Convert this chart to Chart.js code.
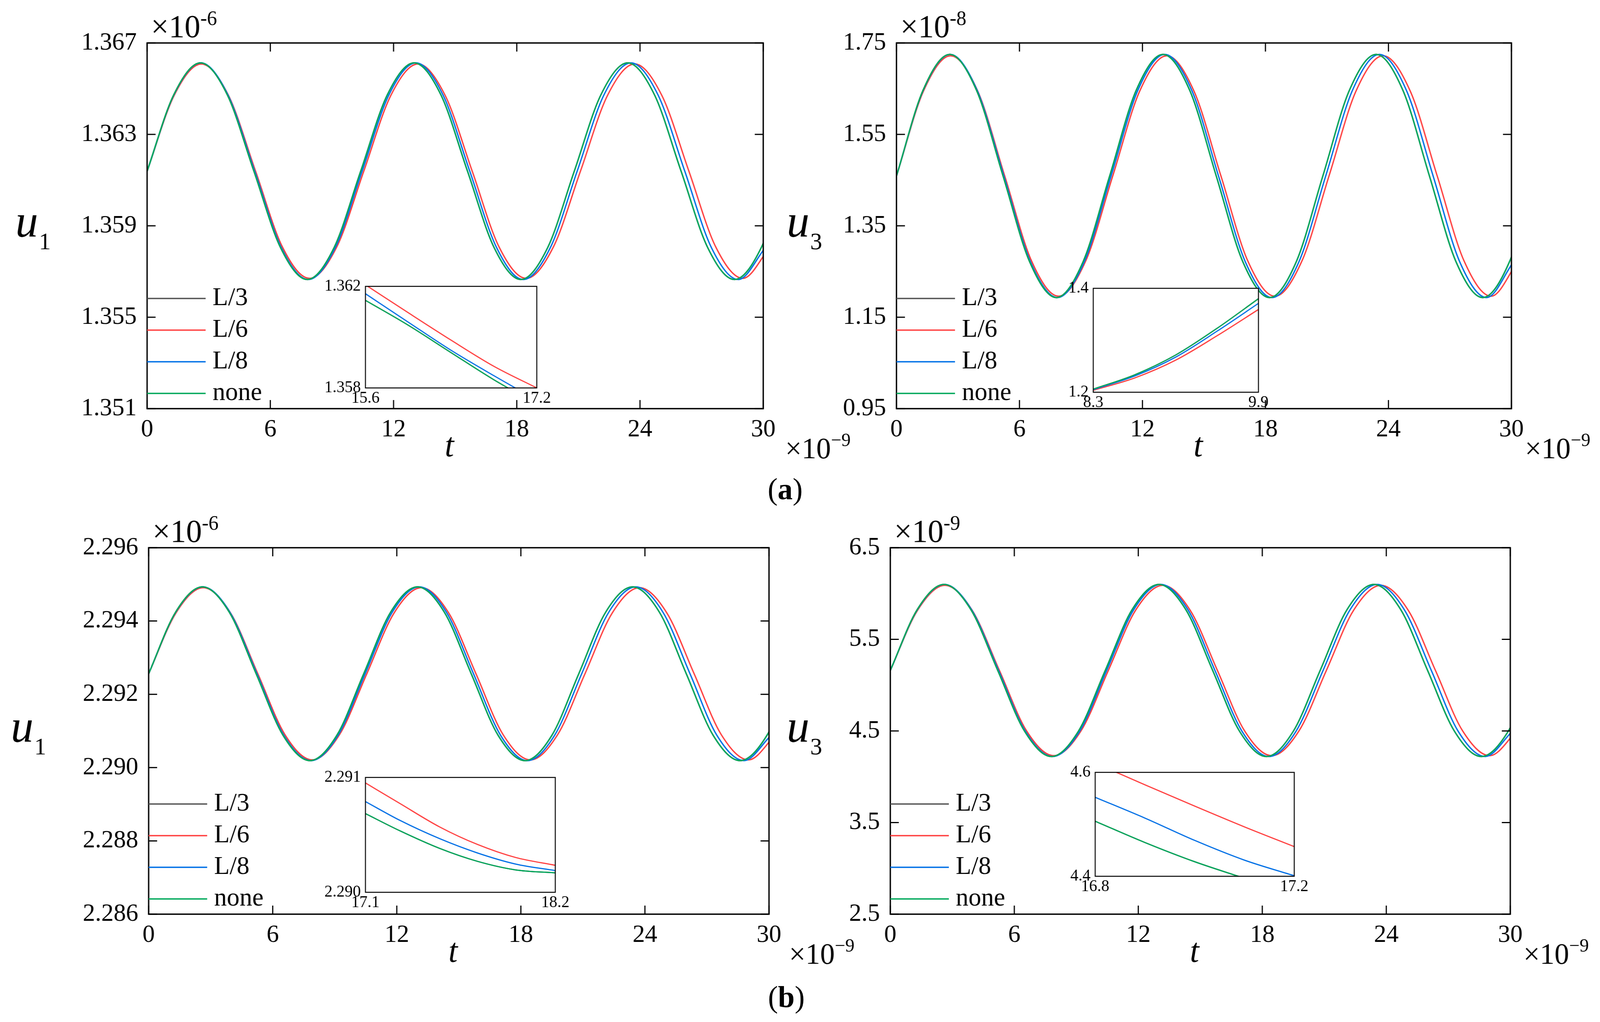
<!DOCTYPE html>
<html>
<head>
<meta charset="utf-8">
<script src="https://cdn.jsdelivr.net/npm/chart.js@4.4.1/dist/chart.umd.min.js"></script>
<style>
  html, body { margin: 0; padding: 0; background: #fff; overflow: hidden; }
  #page { position: absolute; left: 0; top: 0; width: 4155px; height: 2616px; transform-origin: 0 0; background: #fff; }
  canvas { position: absolute; }
  .cap { position: absolute; font-family: "Liberation Serif", "Times New Roman", serif; font-size: 78px; line-height: 78px; transform: translateX(-50%); color: #000; }
</style>
</head>
<body>
<div id="page">
<div class="cap" style="left:2039px; top:1213px">(<b>a</b>)</div>
<div class="cap" style="left:2042px; top:2513px">(<b>b</b>)</div>
</div>
<script>
// sample times (x 10^-9) picked along each curve: zero crossings, peaks, troughs and half-way points
const tNone = [0, 1.3, 2.6, 3.9, 5.2, 6.5, 7.8, 9.1, 10.4, 11.7, 13.0, 14.3, 15.6, 16.9, 18.2, 19.5, 20.8, 22.1, 23.4, 24.7, 26.0, 27.3, 28.6, 29.9, 31.2];
const tL8 = [0, 1.31, 2.62, 3.93, 5.24, 6.54, 7.85, 9.16, 10.47, 11.78, 13.09, 14.40, 15.71, 17.02, 18.32, 19.63, 20.94, 22.25, 23.56, 24.87, 26.18, 27.48, 28.79, 30.10];
const tL6 = [0, 1.32, 2.64, 3.96, 5.28, 6.59, 7.91, 9.23, 10.55, 11.87, 13.19, 14.51, 15.83, 17.14, 18.46, 19.78, 21.10, 22.42, 23.74, 25.06, 26.38, 27.69, 29.01, 30.33];

// (a) u1 (x 10^-6)
const u1aNone = [1.36139, 1.36474, 1.36613, 1.36474, 1.36139, 1.35804, 1.35665, 1.35804,
  1.36139, 1.36474, 1.36613, 1.36474, 1.36139, 1.35804, 1.35665, 1.35804,
  1.36139, 1.36474, 1.36613, 1.36474, 1.36139, 1.35804, 1.35665, 1.35804, 1.36139];
const u1aL8 = [1.36139, 1.36474, 1.36613, 1.36474, 1.36139, 1.35804, 1.35665, 1.35804,
  1.36139, 1.36474, 1.36613, 1.36474, 1.36139, 1.35804, 1.35665, 1.35804,
  1.36139, 1.36474, 1.36613, 1.36474, 1.36139, 1.35804, 1.35665, 1.35804];
const u1aL6 = [1.36139, 1.36471, 1.36608, 1.36471, 1.36139, 1.35807, 1.35670, 1.35807,
  1.36139, 1.36471, 1.36608, 1.36471, 1.36139, 1.35807, 1.35670, 1.35807,
  1.36139, 1.36471, 1.36608, 1.36471, 1.36139, 1.35807, 1.35670, 1.35807];

// (a) u3 (x 10^-8)
const u3aNone = [1.459, 1.647, 1.725, 1.647, 1.459, 1.271, 1.193, 1.271,
  1.459, 1.647, 1.725, 1.647, 1.459, 1.271, 1.193, 1.271,
  1.459, 1.647, 1.725, 1.647, 1.459, 1.271, 1.193, 1.271, 1.459];
const u3aL8 = [1.459, 1.647, 1.725, 1.647, 1.459, 1.271, 1.193, 1.271,
  1.459, 1.647, 1.725, 1.647, 1.459, 1.271, 1.193, 1.271,
  1.459, 1.647, 1.725, 1.647, 1.459, 1.271, 1.193, 1.271];
const u3aL6 = [1.459, 1.645, 1.722, 1.645, 1.459, 1.273, 1.196, 1.273,
  1.459, 1.645, 1.722, 1.645, 1.459, 1.273, 1.196, 1.273,
  1.459, 1.645, 1.722, 1.645, 1.459, 1.273, 1.196, 1.273];

// (b) u1 (x 10^-6)
const u1bNone = [2.29256, 2.29424, 2.29493, 2.29424, 2.29256, 2.29088, 2.29019, 2.29088,
  2.29256, 2.29424, 2.29493, 2.29424, 2.29256, 2.29088, 2.29019, 2.29088,
  2.29256, 2.29424, 2.29493, 2.29424, 2.29256, 2.29088, 2.29019, 2.29088, 2.29256];
const u1bL8 = [2.29256, 2.29424, 2.29493, 2.29424, 2.29256, 2.29088, 2.29019, 2.29088,
  2.29256, 2.29424, 2.29493, 2.29424, 2.29256, 2.29088, 2.29019, 2.29088,
  2.29256, 2.29424, 2.29493, 2.29424, 2.29256, 2.29088, 2.29019, 2.29088];
const u1bL6 = [2.29256, 2.29422, 2.29491, 2.29422, 2.29256, 2.29090, 2.29021, 2.29090,
  2.29256, 2.29422, 2.29491, 2.29422, 2.29256, 2.29090, 2.29021, 2.29090,
  2.29256, 2.29422, 2.29491, 2.29422, 2.29256, 2.29090, 2.29021, 2.29090];

// (b) u3 (x 10^-9)
const u3bNone = [5.160, 5.824, 6.099, 5.824, 5.160, 4.496, 4.221, 4.496,
  5.160, 5.824, 6.099, 5.824, 5.160, 4.496, 4.221, 4.496,
  5.160, 5.824, 6.099, 5.824, 5.160, 4.496, 4.221, 4.496, 5.160];
const u3bL8 = [5.160, 5.824, 6.099, 5.824, 5.160, 4.496, 4.221, 4.496,
  5.160, 5.824, 6.099, 5.824, 5.160, 4.496, 4.221, 4.496,
  5.160, 5.824, 6.099, 5.824, 5.160, 4.496, 4.221, 4.496];
const u3bL6 = [5.160, 5.818, 6.090, 5.818, 5.160, 4.502, 4.230, 4.502,
  5.160, 5.818, 6.090, 5.818, 5.160, 4.502, 4.230, 4.502,
  5.160, 5.818, 6.090, 5.818, 5.160, 4.502, 4.230, 4.502];

// tick labels
const tTicks = [0, 6, 12, 18, 24, 30];
const u1aTicks = [1.351, 1.355, 1.359, 1.363, 1.367];
const u3aTicks = [0.95, 1.15, 1.35, 1.55, 1.75];
const u1bTicks = [2.286, 2.288, 2.290, 2.292, 2.294, 2.296];
const u3bTicks = [2.5, 3.5, 4.5, 5.5, 6.5];

// zoomed insets
const insT1a = [15.6, 16.0, 16.4, 16.8, 17.2];
const ins1aNone = [1.36145, 1.36047, 1.35939, 1.35832, 1.35736];
const ins1aL8 = [1.36171, 1.36059, 1.35948, 1.35848, 1.35752];
const ins1aL6 = [1.36206, 1.36096, 1.35988, 1.35885, 1.35800];
const insX1a = [15.6, 17.2];
const insY1a = [1.358, 1.362];

const insT3a = [8.3, 8.7, 9.1, 9.5, 9.9];
const ins3aNone = [1.2060, 1.2334, 1.2718, 1.3231, 1.3800];
const ins3aL8 = [1.2050, 1.2311, 1.2678, 1.3176, 1.3710];
const ins3aL6 = [1.2038, 1.2274, 1.2619, 1.3088, 1.3593];
const insX3a = [8.3, 9.9];
const insY3a = [1.2, 1.4];

const insT1b = [17.1, 17.3, 17.53, 17.75, 17.97, 18.2];
const ins1bNone = [2.290685, 2.290535, 2.290382, 2.290269, 2.290195, 2.290169];
const ins1bL8 = [2.290790, 2.290626, 2.290467, 2.290342, 2.290246, 2.290189];
const ins1bL6 = [2.290952, 2.290773, 2.290569, 2.290416, 2.290303, 2.290235];
const insX1b = [17.1, 18.2];
const insY1b = [2.290, 2.291];

const insT3b = [16.8, 16.9, 17.0, 17.1, 17.2];
const ins3bNone = [4.506, 4.465, 4.428, 4.396, 4.363];
const ins3bL8 = [4.552, 4.512, 4.469, 4.431, 4.401];
const ins3bL6 = [4.618, 4.576, 4.535, 4.495, 4.457];
const insX3b = [16.8, 17.2];
const insY3b = [4.4, 4.6];

const seriesNames = ['L/3', 'L/6', 'L/8', 'none'];
const seriesColors = ['#555555', '#ff4040', '#0070e6', '#00a85a'];
const seriesTimes = [tNone, tL6, tL8, tNone];

const serif = '"Liberation Serif", "Times New Roman", serif';
const tickFont = { family: '"Liberation Serif", serif', size: 64, lineHeight: 1 };
const insFont = { family: '"Liberation Serif", serif', size: 42, lineHeight: 1 };

const panels = [
  { canvas: [0, 0, 2300, 1300], area: [382, 110, 1982, 1046], yTicks: u1aTicks, dec: 3,
    values: [u1aNone, u1aL6, u1aL8, u1aNone], sub: '1', exp: '-6', uX: 40, multDx: 57,
    inset: { box: [949, 733, 1394, 993], t: insT1a, values: [ins1aNone, ins1aL6, ins1aL8, ins1aNone],
             x: insX1a, y: insY1a, xDec: 1, yDec: 3 } },
  { canvas: [2000, 0, 2155, 1300], area: [2328, 110, 3925, 1046], yTicks: u3aTicks, dec: 2,
    values: [u3aNone, u3aL6, u3aL8, u3aNone], sub: '3', exp: '-8', uX: 2043, multDx: 35,
    inset: { box: [2839, 738, 3268, 1004], t: insT3a, values: [ins3aNone, ins3aL6, ins3aL8, ins3aNone],
             x: insX3a, y: insY3a, xDec: 1, yDec: 1 } },
  { canvas: [0, 1300, 2300, 1316], area: [386, 1402, 1997, 2340], yTicks: u1bTicks, dec: 3,
    values: [u1bNone, u1bL6, u1bL8, u1bNone], sub: '1', exp: '-6', uX: 28, multDx: 52,
    inset: { box: [949, 1990, 1442, 2284], t: insT1b, values: [ins1bNone, ins1bL6, ins1bL8, ins1bNone],
             x: insX1b, y: insY1b, xDec: 1, yDec: 3 } },
  { canvas: [2000, 1300, 2155, 1316], area: [2312, 1402, 3922, 2340], yTicks: u3bTicks, dec: 1,
    values: [u3bNone, u3bL6, u3bL8, u3bNone], sub: '3', exp: '-9', uX: 2043, multDx: 34,
    inset: { box: [2844, 1977, 3361, 2243], t: insT3b, values: [ins3bNone, ins3bL6, ins3bL8, ins3bNone],
             x: insX3b, y: insY3b, xDec: 1, yDec: 1 } }
];

const page = document.getElementById('page');
// keep the 4155x2616 composition inside whatever viewport we actually get
const fitX = window.innerWidth / 4155, fitY = window.innerHeight / 2616;
if (Math.abs(fitX - 1) > 0.002 || Math.abs(fitY - 1) > 0.002) {
  page.style.transform = 'scale(' + fitX + ',' + fitY + ')';
}

const xy = (ts, vs) => vs.map((v, i) => ({ x: ts[i], y: v }));

function zeroPad(s) {
  s.paddingLeft = 0; s.paddingRight = 0; s.paddingTop = 0; s.paddingBottom = 0;
}

function makeCanvas(l, t, w, h) {
  const c = document.createElement('canvas');
  c.width = w; c.height = h;
  c.style.left = l + 'px'; c.style.top = t + 'px';
  c.style.width = w + 'px'; c.style.height = h + 'px';
  page.appendChild(c);
  return c;
}

function axis(ticks, dec, font, pad, fit) {
  return {
    type: 'linear', min: ticks[0], max: ticks[ticks.length - 1],
    grid: { display: false, drawTicks: false }, border: { display: false },
    ticks: { font: font, color: '#000', padding: pad, autoSkip: false, maxRotation: 0,
             callback: v => Number(v).toFixed(dec) },
    afterBuildTicks: s => { s.ticks = ticks.map(v => ({ value: v })); },
    afterFit: fit
  };
}

function datasets(times, values, width) {
  return seriesNames.map((name, i) => ({
    label: name, data: xy(times[i], values[i]),
    borderColor: seriesColors[i], borderWidth: width, pointRadius: 0,
    cubicInterpolationMode: 'monotone', capBezierPoints: false, fill: false, order: 4 - i
  }));
}

// frame, inward ticks, legend, axis titles and multipliers
function decor(p) {
  return {
    id: 'decor',
    afterDatasetsDraw(chart) {
      const ctx = chart.ctx, a = chart.chartArea;
      const xs = chart.scales.x, ys = chart.scales.y;
      const ox = p.canvas[0];
      ctx.save();
      ctx.strokeStyle = '#000';
      ctx.lineWidth = 3;
      ctx.beginPath();
      xs.ticks.forEach(t => {
        const px = xs.getPixelForValue(t.value);
        ctx.moveTo(px, a.bottom); ctx.lineTo(px, a.bottom - 22);
        ctx.moveTo(px, a.top); ctx.lineTo(px, a.top + 22);
      });
      ys.ticks.forEach(t => {
        const py = ys.getPixelForValue(t.value);
        ctx.moveTo(a.left, py); ctx.lineTo(a.left + 22, py);
        ctx.moveTo(a.right, py); ctx.lineTo(a.right - 22, py);
      });
      ctx.stroke();
      ctx.lineWidth = 3.5;
      ctx.strokeRect(a.left, a.top, a.right - a.left, a.bottom - a.top);

      // legend
      const rows = [282, 201, 120, 39];
      ctx.font = '66px ' + serif;
      ctx.fillStyle = '#000';
      ctx.textAlign = 'left';
      ctx.textBaseline = 'middle';
      seriesNames.forEach((name, i) => {
        const y = a.bottom - rows[i];
        ctx.strokeStyle = seriesColors[i];
        ctx.lineWidth = 3.5;
        ctx.beginPath(); ctx.moveTo(a.left, y); ctx.lineTo(a.left + 152, y); ctx.stroke();
        ctx.fillText(name, a.left + 170, y);
      });

      // y title u with subscript
      ctx.textBaseline = 'alphabetic';
      const ux = p.uX - ox, uy = (a.top + a.bottom) / 2 + 28;
      ctx.font = 'italic 118px ' + serif;
      ctx.fillText('u', ux, uy);
      const uw = ctx.measureText('u').width;
      ctx.font = '62px ' + serif;
      ctx.fillText(p.sub, ux + uw + 2, uy + 32);

      // x title
      ctx.font = 'italic 86px ' + serif;
      ctx.textAlign = 'center';
      ctx.fillText('t', (a.left + a.right) / 2 - 15, a.bottom + 122);

      // multipliers
      ctx.textAlign = 'left';
      ctx.font = '82px ' + serif;
      ctx.fillText('\u00d710', a.left + 10, a.top - 15);
      let w = ctx.measureText('\u00d710').width;
      ctx.font = '52px ' + serif;
      ctx.fillText(p.exp, a.left + 10 + w, a.top - 46);

      const mx = a.right + p.multDx;
      ctx.font = '76px ' + serif;
      ctx.fillText('\u00d710', mx, a.bottom + 127);
      w = ctx.measureText('\u00d710').width;
      ctx.font = '48px ' + serif;
      ctx.fillText('\u22129', mx + w, a.bottom + 96);
      ctx.restore();
    }
  };
}

const insetBox = {
  id: 'insetBox',
  beforeDraw(chart) {
    const ctx = chart.ctx, a = chart.chartArea;
    ctx.save();
    ctx.fillStyle = '#fff';
    ctx.fillRect(a.left, a.top, a.right - a.left, a.bottom - a.top);
    ctx.restore();
  },
  afterDatasetsDraw(chart) {
    const ctx = chart.ctx, a = chart.chartArea;
    ctx.save();
    ctx.strokeStyle = '#000';
    ctx.lineWidth = 2.5;
    ctx.strokeRect(a.left, a.top, a.right - a.left, a.bottom - a.top);
    ctx.restore();
  }
};

function mainChart(p) {
  const [cl, ct, cw, ch] = p.canvas;
  const [al, at, ar, ab] = p.area;
  const c = makeCanvas(cl, ct, cw, ch);
  const wy = al - cl, hx = 100;
  new Chart(c, {
    type: 'line',
    data: { datasets: datasets(seriesTimes, p.values, 3.5) },
    options: {
      responsive: false, animation: false, devicePixelRatio: 1, events: [],
      layout: { autoPadding: false, padding: { left: 0, top: at - ct, right: cl + cw - ar, bottom: ct + ch - ab - hx } },
      plugins: { legend: { display: false }, tooltip: { enabled: false } },
      scales: {
        x: axis(tTicks, 0, tickFont, 22, s => { s.height = hx; zeroPad(s); }),
        y: axis(p.yTicks, p.dec, tickFont, 27, s => { s.width = wy; zeroPad(s); })
      }
    },
    plugins: [decor(p)]
  });
}

function insetChart(p) {
  const q = p.inset;
  const [bl, bt, br, bb] = q.box;
  const ml = 130, mt = 30, mr = 40, mb = 60;
  const c = makeCanvas(bl - ml, bt - mt, br - bl + ml + mr, bb - bt + mt + mb);
  const times = seriesNames.map(() => q.t);
  new Chart(c, {
    type: 'line',
    data: { datasets: datasets(times, q.values, 3) },
    options: {
      responsive: false, animation: false, devicePixelRatio: 1, events: [],
      layout: { autoPadding: false, padding: { left: 2, top: mt, right: mr, bottom: 2 } },
      plugins: { legend: { display: false }, tooltip: { enabled: false } },
      scales: {
        x: axis(q.x, q.xDec, insFont, 6, s => { s.height = mb - 2; zeroPad(s); }),
        y: axis(q.y, q.yDec, insFont, 12, s => { s.width = ml - 2; zeroPad(s); })
      }
    },
    plugins: [insetBox]
  });
}

panels.forEach(mainChart);
panels.forEach(insetChart);
</script>
</body>
</html>
